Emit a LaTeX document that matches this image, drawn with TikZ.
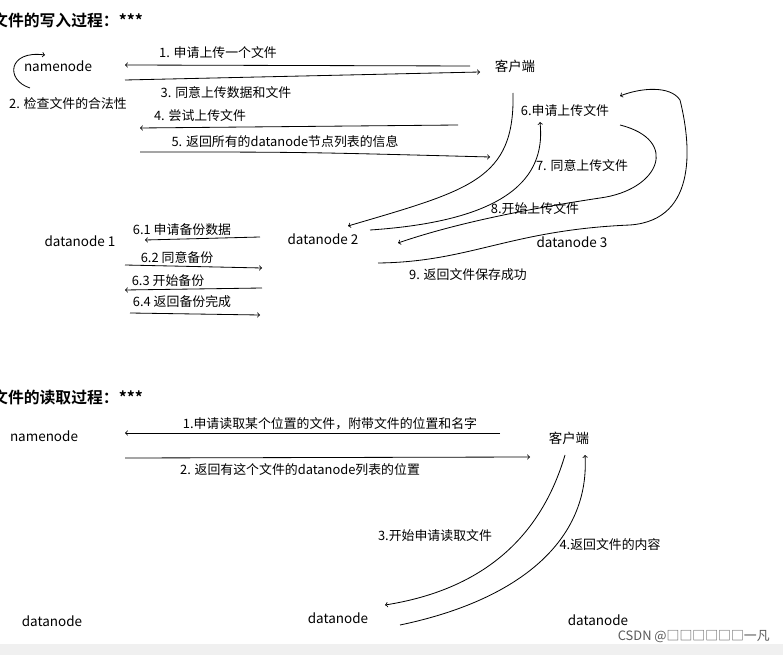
\documentclass[tikz,border=0pt]{standalone}
\usepackage{fontspec}
\setmainfont{Noto Sans CJK SC}
\newfontfamily\headfont{Noto Sans CJK SC Bold}
\usetikzlibrary{positioning}
\tikzset{
  lbl/.style={inner sep=0pt,font=\fontsize{11}{13}\selectfont},
  dnode/.style={inner sep=0pt,font=\fontsize{11.5}{13}\selectfont},
  pen/.style={line width=0.7pt,->}
}
\begin{document}
\begin{tikzpicture}[x=0.03cm,y=-0.03cm]
\useasboundingbox (0,0) rectangle (783,655);
\fill[gray!12] (0,644) rectangle (783,655);

%% write
\node[anchor=west,inner sep=0pt,font=\headfont\fontsize{13.5}{15}\selectfont] (h1) at (-8,20) {文件的写入过程：***};
\node[dnode] (nn) at (58,66) {namenode};
\node[dnode] (cl) at (515,66) {客户端};
\node[lbl] (t2) at (68,104) {2. 检查文件的合法性};
\draw[pen] (30,88) .. controls (5,80) and (8,50) .. (45,55);

\node[lbl] (t1) at (218,53) {1. 申请上传一个文件};
\coordinate (a1) at (470,66); \coordinate (b1) at (125,65);
\draw[pen] (a1) -- (b1);
\coordinate (a3) at (125,80); \coordinate (b3) at (480,72);
\draw[pen] (a3) -- (b3);
\node[lbl] (t3) at (226,93) {3. 同意上传数据和文件};
\node[lbl] (t4) at (200,116) {4. 尝试上传文件};
\coordinate (a4) at (458,125); \coordinate (b4) at (140,128);
\draw[pen] (a4) -- (b4);
\node[lbl] (t5) at (285,142) {5. 返回所有的datanode节点列表的信息};
\coordinate (a5) at (140,152); \coordinate (b5) at (490,157);
\draw[pen] (a5) .. controls (300,152) .. (b5);

\node[lbl] (t6) at (565,111) {6.申请上传文件};
\node[lbl] (t7) at (582,166) {7. 同意上传文件};
\node[lbl] (t8) at (535,209) {8.开始上传文件};
\node[lbl] (t9) at (468,275) {9. 返回文件保存成功};
\node[dnode] (d1) at (80,241) {datanode 1};
\node[dnode] (d2) at (323,239) {datanode 2};
\node[dnode] (d3) at (572,242) {datanode 3};

\draw[pen] (513,93) .. controls (515,180) and (470,190) .. (348,226);
\draw[pen] (370,230) .. controls (520,220) and (545,170) .. (540,122);
\draw[pen] (620,125) .. controls (680,140) and (660,190) .. (600,198)
  .. controls (520,210) and (450,225) .. (398,243);
\draw[pen] (378,263) .. controls (470,262) and (510,230) .. (630,225)
  .. controls (700,220) and (690,140) .. (680,100)
  .. controls (670,85) and (640,88) .. (620,96);

\node[lbl] (t61) at (182,230) {6.1 申请备份数据};
\node[lbl] (t62) at (177,258) {6.2 同意备份};
\node[lbl] (t63) at (168,281) {6.3 开始备份};
\node[lbl] (t64) at (182,302) {6.4 返回备份完成};
\coordinate (a61) at (260,237); \coordinate (b61) at (145,240);
\draw[pen] (a61) -- (b61);
\coordinate (a62) at (125,265); \coordinate (b62) at (262,268);
\draw[pen] (a62) -- (b62);
\coordinate (a63) at (262,288); \coordinate (b63) at (125,290);
\draw[pen] (a63) -- (b63);
\coordinate (a64) at (130,313); \coordinate (b64) at (260,315);
\draw[pen] (a64) -- (b64);

%% read
\node[anchor=west,inner sep=0pt,font=\headfont\fontsize{13.5}{15}\selectfont] (h2) at (-8,397) {文件的读取过程：***};
\node[dnode] (rn) at (44,436) {namenode};
\node[dnode] (rc) at (569,438) {客户端};
\node[lbl] (r1) at (330,424) {1.申请读取某个位置的文件，附带文件的位置和名字};
\coordinate (ra1) at (500,433); \coordinate (rb1) at (125,433);
\draw[pen] (ra1) -- (rb1);
\coordinate (ra2) at (125,458); \coordinate (rb2) at (530,457);
\draw[pen] (ra2) -- (rb2);
\node[lbl] (r2) at (300,470) {2. 返回有这个文件的datanode列表的位置};
\node[lbl] (r3) at (435,536) {3.开始申请读取文件};
\node[lbl] (r4) at (610,545) {4.返回文件的内容};
\node[dnode] (rd1) at (52,621) {datanode};
\node[dnode] (rd2) at (338,618) {datanode};
\node[dnode] (rd3) at (598,620) {datanode};
\draw[pen] (565,455) .. controls (540,540) and (480,590) .. (385,605);
\draw[pen] (400,625) .. controls (520,600) and (590,540) .. (585,455);

\node[lbl,anchor=east,text=gray!70!black] (wm) at (770,637) {CSDN @□□□□□□一凡};
\end{tikzpicture}
\end{document}
